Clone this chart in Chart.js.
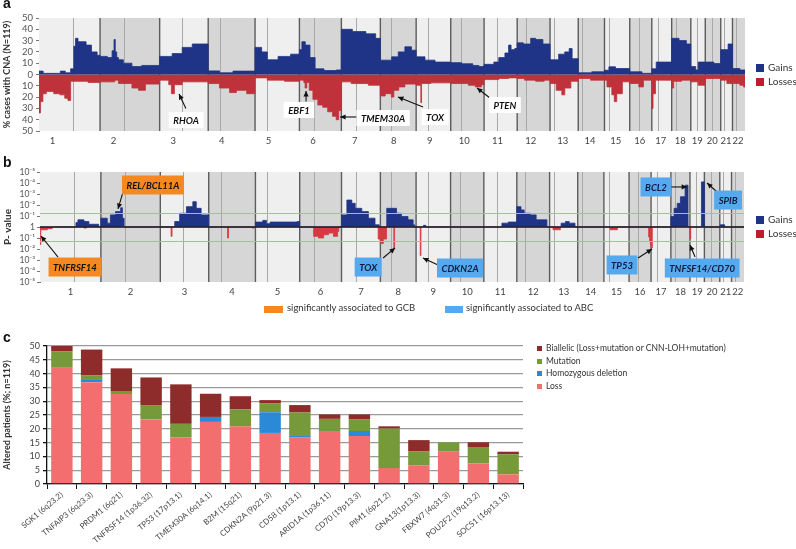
<!DOCTYPE html>
<html>
<head>
<meta charset="utf-8">
<title>CNA profile and altered genes</title>
<script src="https://cdn.jsdelivr.net/npm/chart.js@4.4.0/dist/chart.umd.min.js"></script>
<style>
  body { margin: 0; background: #fff; font-family: Lato, 'Open Sans', sans-serif; }
  #page { position: relative; width: 796px; height: 549px; overflow: hidden; }
  canvas { position: absolute; left: 0; }
  .tag { position: absolute; left: 3px; font: bold 14px 'Liberation Sans', Arial, sans-serif; color: #111; line-height: 14px; }
  .txt { position: absolute; color: #333; white-space: nowrap; }
  .sw { position: absolute; }
</style>
</head>
<body>
<div id="page">
  <canvas id="cnaChart" width="796" height="150" style="top:0"></canvas>
  <canvas id="pvalChart" width="796" height="170" style="top:150px"></canvas>
  <canvas id="geneChart" width="796" height="229" style="top:320px"></canvas>

  <div class="tag" style="top:-4px">a</div>
  <div class="tag" style="top:155px">b</div>
  <div class="tag" style="top:330px">c</div>

  <!-- legend a -->
  <div class="sw" style="left:756px;top:64px;width:8px;height:8px;background:#1f3487"></div>
  <div class="txt" style="left:768px;top:61px;font-size:10px">Gains</div>
  <div class="sw" style="left:756px;top:78px;width:8px;height:8px;background:#b8202e"></div>
  <div class="txt" style="left:768px;top:75px;font-size:10px">Losses</div>

  <!-- legend b -->
  <div class="sw" style="left:756px;top:216px;width:8px;height:8px;background:#1f3487"></div>
  <div class="txt" style="left:768px;top:213px;font-size:10px">Gains</div>
  <div class="sw" style="left:756px;top:230px;width:8px;height:8px;background:#b8202e"></div>
  <div class="txt" style="left:768px;top:227px;font-size:10px">Losses</div>
  <div class="sw" style="left:264px;top:306px;width:19px;height:7px;background:#f5891f"></div>
  <div class="txt" style="left:287px;top:302px;font-size:9.5px">significantly associated to GCB</div>
  <div class="sw" style="left:445px;top:306px;width:18px;height:7px;background:#55a9ee"></div>
  <div class="txt" style="left:466px;top:302px;font-size:9.5px">significantly associated to ABC</div>

  <!-- legend c -->
  <div class="sw" style="left:537px;top:346px;width:5px;height:5px;background:#8e2b2b"></div>
  <div class="txt" style="left:546px;top:343px;font-size:8.5px">Biallelic (Loss+mutation or CNN-LOH+mutation)</div>
  <div class="sw" style="left:537px;top:359px;width:5px;height:5px;background:#76993a"></div>
  <div class="txt" style="left:546px;top:356px;font-size:8.5px">Mutation</div>
  <div class="sw" style="left:537px;top:371px;width:5px;height:5px;background:#2b8ad8"></div>
  <div class="txt" style="left:546px;top:368px;font-size:8.5px">Homozygous deletion</div>
  <div class="sw" style="left:537px;top:384px;width:5px;height:5px;background:#f36f6f"></div>
  <div class="txt" style="left:546px;top:381px;font-size:8.5px">Loss</div>
</div>

<script>
// ***** GENOME *****

const chromNames = ['1','2','3','4','5','6','7','8','9','10','11','12','13','14','15','16','17','18','19','20','21','22'];
// chromosome length and centromere, Mb
const chromLengths = [249,243,198,191,181,171,159,146,141,136,135,134,115,107,103,90,81,78,59,63,48,51];
const centromeres = [139,98,93,50,48,60,60,45,49,40,53,35,17,17,19,36,24,17,26,28,13,14];

// ***** PANEL A DATA: % cases with CNA, [chromosome, position Mb, %] *****

const cnaGains = [
  [1,0,3],[1,17,1],[1,87,3],[1,107,1.5],[1,129,5],[1,142,25],[1,149,32],[1,159,29],[1,192,26],[1,214,20],[1,237,17],
  [2,0,16],[2,30,15],[2,49,21],[2,57,31],[2,62,20],[2,68,15],[2,75,13],[2,95,10],[2,130,7],[2,170,8],
  [3,0,16],[3,51,18.5],[3,92,24],[3,133,27],
  [4,0,3.2],[4,46,1.5],[4,101,3],
  [5,0,24],[5,27,20],[5,50,13],[5,94,16],[5,145,18],
  [6,0,22],[6,10,29],[6,24,26],[6,43,15],[6,64,5],[6,100,3.5],[6,150,4],
  [7,0,40],[7,45,38],[7,100,36],[7,140,32],
  [8,0,12.7],[8,46,15.6],[8,73,20],[8,100,24.5],[8,127,21.5],
  [9,0,15.6],[9,36,12.7],[9,77,11],
  [10,0,10.5],[10,45,9.5],[10,90,8],[10,115,7],
  [11,0,9],[11,40,11],[11,60,15],[11,85,19],[11,100,26],[11,110,22],[11,125,23],
  [12,0,28],[12,25,27],[12,55,32],[12,75,31],[12,105,27],
  [13,0,13],[13,35,18],[13,60,20],[13,78,23],[13,90,14],
  [14,0,1.5],[14,55,2.4],
  [15,0,3.8],[15,18,6.8],[15,45,5.3],
  [16,0,2.4],[16,50,1],
  [17,0,5],[17,18,11],
  [18,0,32],[18,30,30],[18,60,27],
  [19,0,7],[19,20,4],[19,30,11],
  [20,0,11],[20,35,9.7],
  [21,0,22],[21,30,27],
  [22,0,5.3],[22,30,4]
];

const cnaLosses = [
  [1,0,34],[1,6,24],[1,16,17],[1,30,15],[1,60,17],[1,85,18],[1,105,21],[1,118,23],[1,129,6],[1,200,7],
  [2,0,6.5],[2,60,5],[2,75,8],[2,130,12],[2,157,14],[2,185,8.5],
  [3,0,5],[3,37,9],[3,48,17],[3,60,9],[3,92,6.5],
  [4,0,8],[4,46,12],[4,87,16],[4,115,14],[4,157,17],
  [5,0,3],[5,50,5],[5,120,6],
  [6,0,5],[6,18,7],[6,23,12],[6,30,7],[6,40,14],[6,55,22],[6,75,27],[6,95,29],[6,115,33],[6,135,37],[6,150,40],[6,160,32],
  [7,0,6.5],[7,40,8],[7,110,9.5],
  [8,0,19],[8,20,17],[8,45,20],[8,55,14],[8,75,11],[8,100,8.5],
  [9,0,9.5],[9,19,25],[9,22,8],[9,60,7.4],
  [10,0,8],[10,72,9.5],[10,100,11],[10,125,9],
  [11,0,4.5],[11,60,3.5],[11,100,3],
  [12,0,3.5],[12,30,5],[12,75,6],[12,110,5],
  [13,0,8],[13,25,14],[13,48,18],[13,60,12],[13,85,6],
  [14,0,3.5],[14,50,5],
  [15,0,5],[15,10,11],[15,30,18],[15,40,24],[15,50,17],[15,73,6.5],
  [16,0,8],[16,37,11],[16,56,5],
  [17,0,30],[17,5,17],[17,15,5],
  [18,0,12],[18,8,6],[18,40,5],
  [19,0,6.5],[19,30,9.5],
  [20,0,3.5],
  [21,0,5],[21,25,8],
  [22,0,8],[22,30,9.5],[22,45,11]
];

// ***** PANEL B DATA: -log10(P), [chromosome, position Mb, -log10 P] *****

const pGains = [
  [1,0,0],[1,147,0.4],[1,155,0.65],[1,180,0.5],[1,200,0.25],[1,240,0],
  [2,0,0.8],[2,26,0.35],[2,39,1.1],[2,60,1.4],[2,81,1.75],[2,88,0.8],[2,95,0],
  [3,0,0],[3,59,0.5],[3,79,1.25],[3,107,1.85],[3,133,2.3],[3,147,1.7],[3,167,1.1],
  [5,0,0.45],[5,30,0.6],[5,45,0.3],[5,60,0.45],[5,170,0.5],
  [7,0,1.1],[7,22,2.45],[7,42,2.15],[7,56,1.7],[7,83,1.4],[7,110,0.8],[7,137,0.2],[7,154,0],
  [8,0,0],[8,26,1.7],[8,66,1.25],[8,86,0.95],[8,113,0.65],[8,134,0.2],[8,140,0],
  [9,0,0],[9,30,0.15],[9,40,0],
  [11,0,0],[11,74,0.35],[11,100,0.45],
  [12,0,1.85],[12,17,1.55],[12,30,1.25],[12,55,1.1],[12,79,0.65],[12,123,0],
  [13,0,0],[13,47,0.35],[13,65,0.5],[13,80,0.35],[13,104,0],
  [18,0,0.95],[18,13,1.7],[18,26,2.15],[18,39,2.75],[18,58,3.8],[18,70,0],
  [19,0,0],[19,47,4.1],
  [21,0,0],[21,2,0.2],[21,20,0]
];

const pLosses = [
  [1,0,1.6],[1,3,0.25],[1,30,0.15],[1,50,0],[1,180,0.1],[1,190,0],
  [3,0,0],[3,44,0.85],[3,48,0],
  [4,0,0],[4,77,1.0],[4,81,0],[4,178,0.1],[4,186,0],
  [6,0,0],[6,57,0.85],[6,77,1.0],[6,98,0.7],[6,118,0.55],[6,138,0.85],[6,155,0.4],[6,160,0],
  [7,0,0],[7,150,1.1],
  [8,0,1.5],[8,12,1.1],[8,25,0],[8,55,1.9],[8,58,0],
  [9,0,0],[9,17,2.6],[9,20,0],
  [13,0,0],[13,14,0.25],[13,44,0],
  [15,0,0],[15,25,0.25],[15,55,0],
  [16,0,0],[16,80,0.9],[16,84,1.3],[16,87,1.6],
  [17,0,1.9],[17,5,0],
  [19,0,1.1],[19,3,0]
];

const pThreshold = 1.3; // P = 0.05
const pTickLabels = ['10⁻⁵','10⁻⁴','10⁻³','10⁻²','10⁻¹','1','10⁻¹','10⁻²','10⁻³','10⁻⁴','10⁻⁵'];

// ***** PANEL C DATA: altered patients (%) *****

const genes = ['SGK1 (6q23.2)','TNFAIP3 (6q23.3)','PRDM1 (6q21)','TNFRSF14 (1p36.32)','TP53 (17p13.1)',
  'TMEM30A (6q14.1)','B2M (15q21)','CDKN2A (9p21.3)','CD58 (1p13.1)','ARID1A (1p36.11)','CD70 (19p13.3)',
  'PIM1 (6p21.2)','GNA13(1p13.3)','FBXW7 (4q31.3)','POU2F2 (19q13.2)','SOCS1 (16p13.13)'];
const lossPct      = [42.1,36.9,32.6,23.5,16.8,22.5,20.9,18.5,16.8,19.2,17.4,5.8,6.8,11.9,7.4,3.5];
const homDelPct    = [0,0.8,0,0,0,1.8,0,7.5,0.9,0,1.8,0,0,0,0,0];
const mutationPct  = [5.9,1.6,1.1,5.1,5.0,0,6.1,3.3,8.2,4.4,4.3,14.3,5.1,3.2,6.0,7.3];
const biallelicPct = [2.0,9.4,8.2,10.0,14.3,8.4,4.8,1.1,2.7,1.6,1.7,0.8,4.0,0,1.7,0.9];

// ***** ANNOTATIONS (genome Mb / axis value) *****

const cnaNotes = [
  {text: 'RHOA',    x: 600,  y: -40.3, fromX: 599,  fromY: -30,   tipX: 571,  tipY: -17.3},
  {text: 'EBF1',    x: 1060, y: -31.4, fromX: 1089, fromY: -24,   tipX: 1089, tipY: -14.6},
  {text: 'TMEM30A', x: 1403, y: -38.5, fromX: 1297, fromY: -37.6, tipX: 1228, tipY: -37.6},
  {text: 'TOX',     x: 1615, y: -37.6, fromX: 1566, fromY: -28.8, tipX: 1464, tipY: -19.9},
  {text: 'PTEN',    x: 1900, y: -27,   fromX: 1839, fromY: -20.8, tipX: 1786, tipY: -11.9}
];

const pNotes = [
  {text: 'TNFRSF14',     group: 'GCB', x: 143,  y: -3.64, fromX: 74,   fromY: -2.73, tipX: 4,    tipY: -0.82},
  {text: 'REL/BCL11A',   group: 'GCB', x: 462,  y: 3.82,  fromX: 348,  fromY: 3.8,   tipX: 319,  tipY: 1.64},
  {text: 'TOX',          group: 'ABC', x: 1342, y: -3.64, fromX: 1403, fromY: -2.82, tipX: 1452, tipY: -1.9},
  {text: 'CDKN2A',       group: 'ABC', x: 1718, y: -3.73, fromX: 1628, fromY: -3.45, tipX: 1566, tipY: -2.82},
  {text: 'TP53',         group: 'ABC', x: 2380, y: -3.45, fromX: 2446, fromY: -2.82, tipX: 2503, tipY: -2},
  {text: 'TNFSF14/CD70', group: 'ABC', x: 2708, y: -3.73, fromX: 2679, fromY: -2.73, tipX: 2658, tipY: -1.64},
  {text: 'BCL2',         group: 'ABC', x: 2519, y: 3.64,  fromX: 2577, fromY: 3.64,  tipX: 2646, tipY: 3.64},
  {text: 'SPIB',         group: 'ABC', x: 2814, y: 2.45,  fromX: 2769, fromY: 3.18,  tipX: 2728, tipY: 4}
];

// ***** COLOURS *****

const gainBlue = '#1f3487';
const lossRed = '#c0323b';
const pLossRed = '#d63a3f';
const groupFill = {GCB: '#f5891f', ABC: '#55a9ee'};
const fontFamily = 'Lato, "Open Sans", sans-serif';

// ***** HELPERS *****

let chromStarts = [];
let total = 0;
for (let i = 0; i < chromLengths.length; i++){
  chromStarts.push(total);
  total += chromLengths[i];
}
const genomeEnd = total;

// turns [chrom, pos, value] rows into step points along the genome
// (each value holds until the next breakpoint)
function buildProfile(rows, sign){
  let pts = [];
  for (let i = 0; i < chromLengths.length; i++){
    let start = chromStarts[i];
    let segs = rows.filter(r => r[0] === i + 1);
    if (!segs.length){
      pts.push({x: start, y: 0});
      pts.push({x: start + chromLengths[i], y: 0});
      continue;
    }
    if (segs[0][1] > 0){
      pts.push({x: start, y: 0});
    }
    segs.forEach(r => pts.push({x: start + r[1], y: sign * r[2]}));
    pts.push({x: start + chromLengths[i], y: sign * segs[segs.length - 1][2]});
  }
  return pts;
}

function profileDataset(rows, sign, color){
  return {
    data: buildProfile(rows, sign),
    // chart.js 'before' = horizontal at the previous value, then vertical
    stepped: 'before',
    borderColor: color,
    backgroundColor: color,
    borderWidth: 0.8,
    pointRadius: 0,
    fill: 'origin'
  };
}

// shaded chromosome bands, boundaries and centromeres
const chromBackground = {
  id: 'chromBackground',
  beforeDatasetsDraw(chart){
    const {ctx, chartArea, scales: {x}} = chart;
    ctx.save();
    for (let i = 0; i < chromLengths.length; i++){
      let x0 = x.getPixelForValue(chromStarts[i]);
      let x1 = x.getPixelForValue(chromStarts[i] + chromLengths[i]);
      ctx.fillStyle = i % 2 ? '#d6d6d6' : '#efefef';
      ctx.fillRect(x0, chartArea.top, x1 - x0, chartArea.bottom - chartArea.top);
    }
    ctx.strokeStyle = '#a8a8a8';
    ctx.lineWidth = 1;
    for (let i = 0; i < centromeres.length; i++){
      let cx = Math.round(x.getPixelForValue(chromStarts[i] + centromeres[i])) + 0.5;
      ctx.beginPath();
      ctx.moveTo(cx, chartArea.top);
      ctx.lineTo(cx, chartArea.bottom);
      ctx.stroke();
    }
    ctx.strokeStyle = '#5c5c5c';
    ctx.lineWidth = 1.4;
    for (let i = 1; i < chromLengths.length; i++){
      let bx = x.getPixelForValue(chromStarts[i]);
      ctx.beginPath();
      ctx.moveTo(bx, chartArea.top);
      ctx.lineTo(bx, chartArea.bottom);
      ctx.stroke();
    }
    ctx.restore();
  }
};

// zero line and P = 0.05 lines for panel b
const pGuides = {
  id: 'pGuides',
  afterDatasetsDraw(chart){
    const {ctx, chartArea, scales: {y}} = chart;
    ctx.save();
    ctx.strokeStyle = '#a3bf9c';
    ctx.lineWidth = 1;
    [pThreshold, -pThreshold].forEach(v => {
      let gy = Math.round(y.getPixelForValue(v)) + 0.5;
      ctx.beginPath();
      ctx.moveTo(chartArea.left, gy);
      ctx.lineTo(chartArea.right, gy);
      ctx.stroke();
    });
    ctx.strokeStyle = '#222';
    ctx.lineWidth = 1.3;
    let zy = y.getPixelForValue(0);
    ctx.beginPath();
    ctx.moveTo(chartArea.left, zy);
    ctx.lineTo(chartArea.right, zy);
    ctx.stroke();
    ctx.restore();
  }
};

function drawNotes(chart, notes, boxHeight){
  const {ctx, scales: {x, y}} = chart;
  ctx.save();
  notes.forEach(n => {
    let fx = x.getPixelForValue(n.fromX), fy = y.getPixelForValue(n.fromY);
    let tx = x.getPixelForValue(n.tipX), ty = y.getPixelForValue(n.tipY);
    ctx.strokeStyle = '#111';
    ctx.fillStyle = '#111';
    ctx.lineWidth = 1.1;
    ctx.beginPath();
    ctx.moveTo(fx, fy);
    ctx.lineTo(tx, ty);
    ctx.stroke();
    let ang = Math.atan2(ty - fy, tx - fx);
    ctx.beginPath();
    ctx.moveTo(tx, ty);
    ctx.lineTo(tx - 6 * Math.cos(ang - 0.45), ty - 6 * Math.sin(ang - 0.45));
    ctx.lineTo(tx - 6 * Math.cos(ang + 0.45), ty - 6 * Math.sin(ang + 0.45));
    ctx.closePath();
    ctx.fill();

    let bx = x.getPixelForValue(n.x), by = y.getPixelForValue(n.y);
    ctx.font = 'italic bold 9.5px ' + fontFamily;
    let w = ctx.measureText(n.text).width + 9;
    ctx.fillStyle = n.group ? groupFill[n.group] : '#fff';
    ctx.fillRect(bx - w / 2, by - boxHeight / 2, w, boxHeight);
    ctx.fillStyle = n.group === 'ABC' ? '#101a40' : '#111';
    ctx.textAlign = 'center';
    ctx.textBaseline = 'middle';
    ctx.fillText(n.text, bx, by + 0.5);
  });
  ctx.restore();
}

const cnaAnnotations = {
  id: 'cnaAnnotations',
  afterDatasetsDraw(chart){ drawNotes(chart, cnaNotes, 16); }
};
const pAnnotations = {
  id: 'pAnnotations',
  afterDraw(chart){ drawNotes(chart, pNotes, 19); }
};

// x ticks at chromosome label positions
function chromTickScale(labelPos, height){
  return {
    type: 'linear',
    min: 0,
    max: genomeEnd,
    afterBuildTicks: (scale) => { scale.ticks = labelPos.map(v => ({value: v})); },
    afterFit: (scale) => { scale.height = height; },
    grid: {display: false, drawTicks: false},
    border: {display: false},
    ticks: {
      autoSkip: false,
      maxRotation: 0,
      padding: 4,
      color: '#444',
      font: {size: 9.5, family: fontFamily},
      callback: (value, index) => chromNames[index]
    }
  };
}

Chart.defaults.font.family = fontFamily;
Chart.defaults.animation = false;

// ***** PANEL A *****

const cnaLabelPos = chromStarts.map((s, i) => s + Math.min(55, chromLengths[i] * 0.45));

new Chart(document.getElementById('cnaChart').getContext('2d'), {
  type: 'line',
  data: {
    datasets: [
      profileDataset(cnaGains, 1, gainBlue),
      profileDataset(cnaLosses, -1, lossRed)
    ]
  },
  options: {
    responsive: false,
    layout: {padding: {left: 0, right: 51, top: 18, bottom: 0}},
    plugins: {legend: {display: false}, tooltip: {enabled: false}},
    scales: {
      x: chromTickScale(cnaLabelPos, 19),
      y: {
        min: -50,
        max: 50,
        afterFit: (scale) => { scale.width = 39; },
        grid: {drawOnChartArea: false, tickLength: 3, color: '#777'},
        border: {color: '#777'},
        ticks: {
          stepSize: 10,
          autoSkip: false,
          padding: 3,
          color: '#555',
          font: {size: 9.5},
          callback: (value) => Math.abs(value)
        },
        title: {
          display: true,
          text: '% cases with CNA (N=119)',
          color: '#333',
          font: {size: 9, weight: 'bold'},
          padding: {top: 2, bottom: 2}
        }
      }
    }
  },
  plugins: [chromBackground, cnaAnnotations]
});

// ***** PANEL B *****

const pLabelPos = chromStarts.map((s, i) => s + chromLengths[i] / 2);

new Chart(document.getElementById('pvalChart').getContext('2d'), {
  type: 'line',
  data: {
    datasets: [
      profileDataset(pGains, 1, gainBlue),
      profileDataset(pLosses, -1, pLossRed)
    ]
  },
  options: {
    responsive: false,
    layout: {padding: {left: 0, right: 52, top: 22, bottom: 20}},
    plugins: {legend: {display: false}, tooltip: {enabled: false}},
    scales: {
      x: chromTickScale(pLabelPos, 18),
      y: {
        min: -5,
        max: 5,
        afterFit: (scale) => { scale.width = 40; },
        grid: {drawOnChartArea: false, tickLength: 3, color: '#777'},
        border: {color: '#777'},
        ticks: {
          stepSize: 1,
          autoSkip: false,
          padding: 2,
          color: '#555',
          font: {size: 8.5},
          callback: (value, index) => pTickLabels[10 - index]
        },
        title: {
          display: true,
          text: 'P- value',
          color: '#333',
          font: {size: 10, weight: 'bold'},
          padding: {top: 2, bottom: 2}
        }
      }
    }
  },
  plugins: [chromBackground, pGuides, pAnnotations]
});

// ***** PANEL C *****

new Chart(document.getElementById('geneChart').getContext('2d'), {
  type: 'bar',
  data: {
    labels: genes,
    datasets: [
      {label: 'Loss', data: lossPct, backgroundColor: '#f36f6f'},
      {label: 'Homozygous deletion', data: homDelPct, backgroundColor: '#2b8ad8'},
      {label: 'Mutation', data: mutationPct, backgroundColor: '#76993a'},
      {label: 'Biallelic (Loss+mutation or CNN-LOH+mutation)', data: biallelicPct, backgroundColor: '#8e2b2b'}
    ]
  },
  options: {
    responsive: false,
    layout: {padding: {left: 0, right: 273, top: 26, bottom: 0}},
    datasets: {bar: {barPercentage: 0.72, categoryPercentage: 1}},
    plugins: {legend: {display: false}, tooltip: {enabled: false}},
    scales: {
      x: {
        stacked: true,
        afterFit: (scale) => { scale.height = 65; },
        grid: {drawOnChartArea: false, offset: true, tickLength: 5, color: '#111'},
        border: {color: '#111', width: 1.3},
        ticks: {
          autoSkip: false,
          minRotation: 40,
          maxRotation: 40,
          padding: 1,
          color: '#444',
          font: {size: 8}
        }
      },
      y: {
        stacked: true,
        min: 0,
        max: 50,
        afterFit: (scale) => { scale.width = 47; },
        grid: {color: '#9a9a9a', lineWidth: 1.3, tickColor: '#111', tickLength: 4},
        border: {color: '#111', width: 1.3},
        ticks: {stepSize: 5, padding: 3, color: '#444', font: {size: 9}},
        title: {
          display: true,
          text: 'Altered patients (%; n=119)',
          color: '#333',
          font: {size: 9, weight: 'bold'},
          padding: {top: 2, bottom: 2}
        }
      }
    }
  }
});
</script>
</body>
</html>
